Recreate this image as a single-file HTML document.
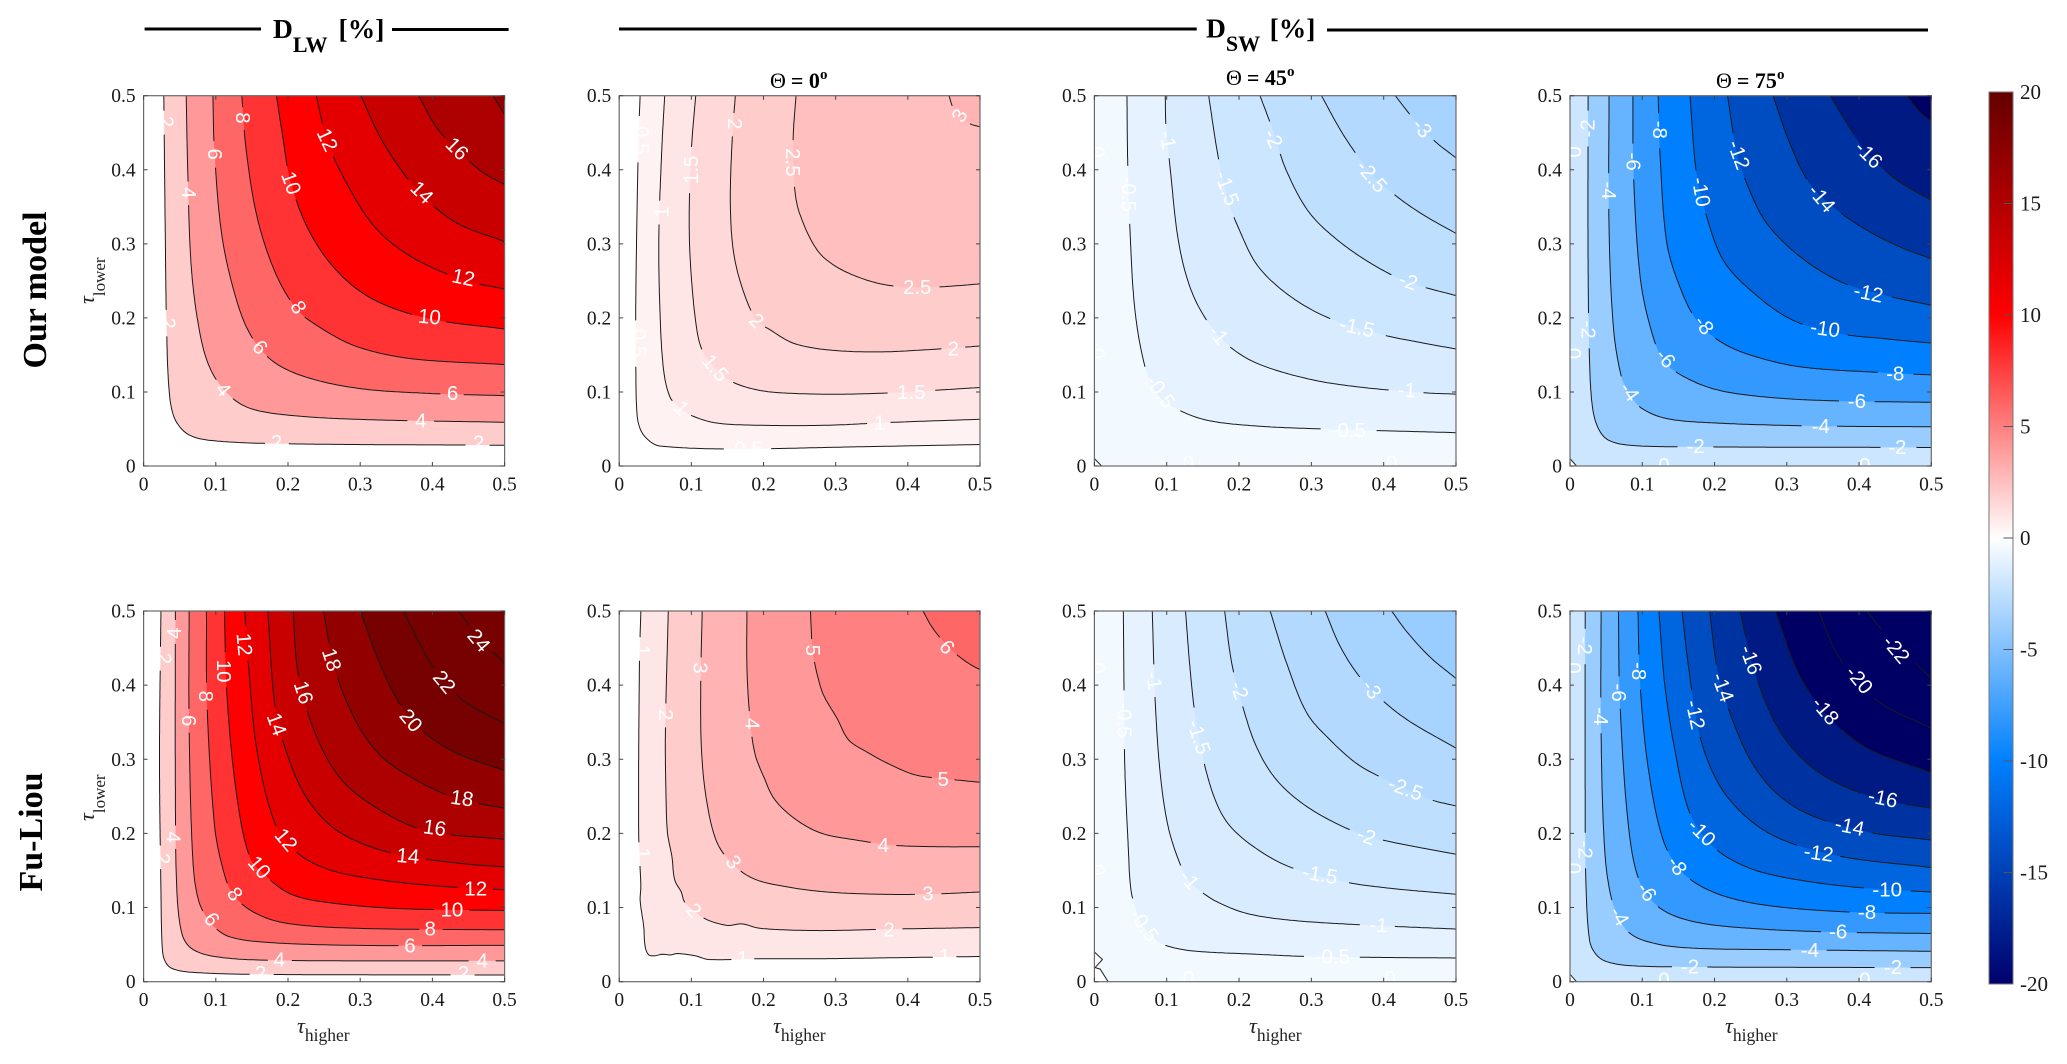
<!DOCTYPE html>
<html lang="en">
<head>
<meta charset="utf-8">
<title>Cloud overlap radiative effect contours</title>
<style>
html,body{margin:0;padding:0;background:#fff;}
svg{display:block;filter:blur(0.35px);}
text{font-family:"Liberation Serif",serif;}
</style>
</head>
<body>
<svg id="figure" xmlns="http://www.w3.org/2000/svg" width="2067" height="1064" viewBox="0 0 2067 1064">
  <defs>
    <linearGradient id="cbar-gradient" x1="0" y1="0" x2="0" y2="1">
      <stop offset="0" stop-color="#640000"/>
      <stop offset="0.25" stop-color="#ff0000"/>
      <stop offset="0.5" stop-color="#ffffff"/>
      <stop offset="0.75" stop-color="#0080ff"/>
      <stop offset="1" stop-color="#00006c"/>
    </linearGradient>
  </defs>

  <g>
    <line x1="144.6" y1="29" x2="261" y2="29" stroke="#000" stroke-width="3"/>
    <line x1="392" y1="29.5" x2="508.6" y2="29.5" stroke="#000" stroke-width="3"/>
    <text x="273" y="38" font-weight="bold" font-size="27.5">D<tspan font-size="22" dy="14">LW</tspan><tspan dy="-14" dx="11">[%]</tspan></text>
  </g>
  <g>
    <line x1="619" y1="29" x2="1196.7" y2="29" stroke="#000" stroke-width="3"/>
    <line x1="1327" y1="30" x2="1928" y2="30" stroke="#000" stroke-width="3"/>
    <text x="1206" y="37.5" font-weight="bold" font-size="27.5">D<tspan font-size="22" dy="13.5">SW</tspan><tspan dy="-13.5" dx="9.5">[%]</tspan></text>
  </g>

  <text x="770" y="88" font-size="22"><tspan>Θ</tspan><tspan font-weight="bold" dx="5">= 0</tspan><tspan font-weight="bold" font-size="15" dy="-9">o</tspan></text>
  <text x="1226" y="85" font-size="22"><tspan>Θ</tspan><tspan font-weight="bold" dx="5">= 45</tspan><tspan font-weight="bold" font-size="15" dy="-9">o</tspan></text>
  <text x="1716" y="88" font-size="22"><tspan>Θ</tspan><tspan font-weight="bold" dx="5">= 75</tspan><tspan font-weight="bold" font-size="15" dy="-9">o</tspan></text>

  <text transform="translate(46,290) rotate(-90)" text-anchor="middle" font-weight="bold" font-size="34">Our model</text>
  <text transform="translate(42,832) rotate(-90)" text-anchor="middle" font-weight="bold" font-size="34">Fu-Liou</text>

  <text transform="translate(94,304) rotate(-90)" font-size="17" fill="#222"><tspan font-style="italic" font-size="22">τ</tspan><tspan dy="11">lower</tspan></text>
  <text transform="translate(94,821) rotate(-90)" font-size="17" fill="#222"><tspan font-style="italic" font-size="22">τ</tspan><tspan dy="11">lower</tspan></text>

  <text x="297" y="1033" font-size="17.5" fill="#222"><tspan font-style="italic" font-size="22">τ</tspan><tspan dy="8">higher</tspan></text>
  <text x="773" y="1033" font-size="17.5" fill="#222"><tspan font-style="italic" font-size="22">τ</tspan><tspan dy="8">higher</tspan></text>
  <text x="1249" y="1033" font-size="17.5" fill="#222"><tspan font-style="italic" font-size="22">τ</tspan><tspan dy="8">higher</tspan></text>
  <text x="1725" y="1033" font-size="17.5" fill="#222"><tspan font-style="italic" font-size="22">τ</tspan><tspan dy="8">higher</tspan></text>

  <g id="panels"></g>

  <g id="colorbar">
    <rect x="1989" y="92" width="24" height="892" fill="url(#cbar-gradient)" stroke="#777" stroke-width="1"/>
  </g>
</svg>

<script>
// ---- shared axis data ----
const tickValues = [0, 0.1, 0.2, 0.3, 0.4, 0.5];
const tickLabels = ["0", "0.1", "0.2", "0.3", "0.4", "0.5"];
const cbarValues = [20, 15, 10, 5, 0, -5, -10, -15, -20];
const cbarLabels = ["20", "15", "10", "5", "0", "-5", "-10", "-15", "-20"];

// ---- Our model, D_LW ----
const modelLwLevels = [2, 4, 6, 8, 10, 12, 14, 16, 18];
const modelLwContours = [
  [[.028,.5],[.030,.314],[.032,.179],[.036,.095],[.044,.062],[.063,.042],[.098,.034],[.197,.030],[.5,.028]],
  [[.059,.5],[.061,.404],[.066,.269],[.078,.179],[.093,.130],[.118,.096],[.147,.078],[.197,.069],[.296,.063],[.5,.059]],
  [[.096,.5],[.098,.427],[.108,.314],[.126,.233],[.147,.179],[.177,.143],[.222,.121],[.296,.105],[.395,.098],[.5,.095]],
  [[.136,.5],[.142,.427],[.157,.337],[.182,.262],[.212,.212],[.246,.186],[.296,.161],[.370,.145],[.5,.137]],
  [[.184,.5],[.192,.449],[.204,.382],[.231,.314],[.271,.260],[.320,.224],[.395,.199],[.5,.185]],
  [[.239,.5],[.254,.440],[.281,.382],[.320,.323],[.370,.283],[.443,.251],[.5,.239]],
  [[.301,.5],[.325,.449],[.350,.409],[.385,.366],[.434,.328],[.5,.303]],
  [[.381,.5],[.405,.458],[.434,.427],[.469,.397],[.5,.380]],
  [[.484,.5],[.5,.474]]
];
const modelLwLabels = [
  ["2",.031,.465,90],["2",.034,.193,90],["2",.184,.032,0],["2",.464,.031,0],
  ["4",.062,.369,90],["4",.110,.103,50],["4",.384,.061,0],
  ["6",.098,.421,90],["6",.161,.160,50],["6",.428,.098,0],
  ["8",.137,.470,90],["8",.214,.214,60],
  ["10",.204,.382,70],["10",.396,.201,5],
  ["12",.254,.440,65],["12",.443,.254,12],
  ["14",.385,.369,45],["16",.434,.428,45]
];

// ---- Our model, D_SW theta 0 ----
const modelSw0Levels = [0.5, 1, 1.5, 2, 2.5, 3];
const modelSw0Contours = [
  [[.029,.5],[.027,.449],[.025,.359],[.023,.224],[.023,.134],[.025,.067],[.031,.046],[.043,.033],[.056,.027],[.149,.023],[.334,.026],[.5,.029]],
  [[.063,.5],[.059,.427],[.055,.314],[.056,.224],[.061,.134],[.070,.094],[.084,.078],[.103,.067],[.135,.058],[.195,.055],[.287,.055],[.380,.059],[.5,.063]],
  [[.106,.5],[.100,.427],[.097,.337],[.099,.269],[.107,.188],[.116,.154],[.135,.130],[.158,.113],[.195,.102],[.241,.098],[.311,.097],[.380,.099],[.5,.106]],
  [[.161,.5],[.157,.449],[.154,.359],[.158,.292],[.170,.242],[.190,.197],[.209,.184],[.241,.166],[.287,.157],[.357,.154],[.426,.157],[.5,.162]],
  [[.245,.5],[.241,.440],[.243,.377],[.250,.341],[.274,.292],[.301,.269],[.343,.251],[.380,.243],[.417,.241],[.463,.243],[.5,.246]],
  [[.457,.5],[.463,.483],[.472,.472],[.486,.462],[.5,.458]]
];
const modelSw0Labels = [
  ["0.5",.031,.440,90],["0.5",.027,.166,90],["0.5",.179,.023,0],
  ["1",.059,.343,-90],["1",.086,.078,45],["1",.361,.058,0],
  ["1.5",.100,.400,-90],["1.5",.133,.132,50],["1.5",.405,.099,0],
  ["2",.160,.462,90],["2",.190,.196,45],["2",.463,.158,0],
  ["2.5",.240,.410,90],["2.5",.413,.241,0],["3",.472,.473,-60]
];

// ---- Our model, D_SW theta 45 ----
const modelSw45Levels = [-0.5, -1, -1.5, -2, -2.5, -3];
const modelSw45Origin = [[0,.010],[.010,0]];
const modelSw45Contours = [
  [[.045,.5],[.046,.413],[.049,.323],[.056,.211],[.070,.134],[.086,.098],[.112,.078],[.155,.062],[.224,.054],[.317,.050],[.5,.045]],
  [[.098,.5],[.099,.458],[.105,.400],[.116,.305],[.132,.242],[.155,.197],[.185,.163],[.224,.139],[.294,.118],[.363,.107],[.455,.099],[.5,.097]],
  [[.158,.5],[.171,.418],[.183,.364],[.199,.322],[.226,.270],[.271,.229],[.326,.199],[.395,.178],[.455,.166],[.5,.158]],
  [[.229,.5],[.245,.458],[.265,.400],[.295,.345],[.330,.310],[.380,.275],[.432,.249],[.5,.230]],
  [[.314,.5],[.340,.454],[.363,.420],[.386,.392],[.418,.364],[.455,.339],[.5,.314]],
  [[.416,.5],[.441,.469],[.469,.440],[.5,.416]]
];
const modelSw45Labels = [
  ["0",.004,.424,90],["0",.004,.152,90],["0",.130,.004,0],["0",.411,.004,0],
  ["-0.5",.047,.367,90],["-0.5",.091,.100,55],["-0.5",.351,.048,0],
  ["-1",.101,.440,80],["-1",.171,.177,50],["-1",.432,.102,2],
  ["-1.5",.183,.375,70],["-1.5",.363,.187,12],
  ["-2",.247,.442,65],["-2",.434,.249,20],
  ["-2.5",.383,.391,50],["-3",.453,.456,50]
];

// ---- Our model, D_SW theta 75 ----
const modelSw75Levels = [-2, -4, -6, -8, -10, -12, -14, -16, -18];
const modelSw75Origin = [[0,.010],[.009,0]];
const modelSw75Contours = [
  [[.025,.5],[.025,.278],[.027,.143],[.031,.080],[.039,.051],[.053,.035],[.083,.028],[.157,.026],[.5,.025]],
  [[.054,.5],[.054,.323],[.060,.188],[.071,.121],[.083,.096],[.099,.078],[.134,.064],[.203,.058],[.341,.054],[.5,.053]],
  [[.087,.5],[.088,.391],[.097,.256],[.111,.188],[.129,.143],[.157,.121],[.203,.103],[.272,.093],[.364,.088],[.5,.086]],
  [[.122,.5],[.125,.413],[.134,.301],[.152,.242],[.175,.197],[.208,.168],[.249,.150],[.318,.134],[.434,.126],[.5,.123]],
  [[.166,.5],[.175,.395],[.189,.337],[.212,.278],[.249,.238],[.304,.199],[.364,.180],[.434,.172],[.5,.166]],
  [[.218,.5],[.231,.422],[.246,.378],[.272,.328],[.318,.283],[.374,.249],[.434,.231],[.5,.217]],
  [[.281,.5],[.304,.436],[.332,.381],[.369,.346],[.415,.316],[.461,.294],[.5,.280]],
  [[.360,.5],[.383,.463],[.411,.422],[.443,.393],[.470,.375],[.5,.359]],
  [[.466,.5],[.484,.478],[.5,.465]]
];
const modelSw75Labels = [
  ["0",.005,.424,90],["0",.005,.152,90],["0",.130,.001,0],["0",.408,.001,0],
  ["-2",.025,.456,-90],["-2",.025,.184,90],["-2",.174,.026,0],["-2",.453,.025,0],
  ["-4",.053,.372,90],["-4",.082,.100,55],["-4",.347,.053,0],
  ["-6",.087,.411,90],["-6",.132,.145,50],["-6",.397,.087,0],
  ["-8",.124,.454,90],["-8",.185,.190,55],["-8",.450,.124,0],
  ["-10",.181,.370,80],["-10",.353,.185,8],
  ["-12",.233,.420,70],["-12",.413,.233,12],
  ["-14",.348,.361,50],["-16",.413,.420,45]
];

// ---- Fu-Liou, D_LW ----
const fuLwLevels = [2, 4, 6, 8, 10, 12, 14, 16, 18, 20, 22, 24];
const fuLwContours = [
  [[.024,.5],[.022,.303],[.024,.124],[.026,.043],[.030,.027],[.039,.018],[.063,.013],[.147,.010],[.5,.009]],
  [[.044,.5],[.044,.258],[.046,.124],[.053,.065],[.066,.045],[.098,.034],[.172,.029],[.5,.028]],
  [[.063,.5],[.063,.348],[.068,.168],[.076,.110],[.093,.079],[.118,.061],[.172,.053],[.296,.049],[.5,.049]],
  [[.087,.5],[.088,.371],[.098,.213],[.108,.159],[.123,.119],[.152,.094],[.197,.079],[.296,.072],[.5,.070]],
  [[.112,.5],[.115,.393],[.128,.258],[.147,.168],[.170,.142],[.202,.119],[.246,.108],[.345,.099],[.5,.096]],
  [[.140,.5],[.145,.429],[.157,.312],[.182,.213],[.209,.177],[.246,.155],[.296,.142],[.395,.130],[.5,.124]],
  [[.172,.5],[.182,.371],[.197,.312],[.222,.254],[.256,.213],[.296,.189],[.355,.171],[.444,.159],[.5,.155]],
  [[.207,.5],[.214,.416],[.236,.339],[.271,.276],[.320,.236],[.390,.204],[.5,.192]],
  [[.249,.5],[.264,.425],[.291,.357],[.325,.308],[.370,.276],[.434,.247],[.5,.234]],
  [[.300,.5],[.325,.434],[.352,.379],[.385,.339],[.434,.308],[.5,.285]],
  [[.360,.5],[.390,.442],[.416,.404],[.449,.375],[.5,.348]],
  [[.436,.5],[.464,.465],[.5,.429]]
];
const fuLwLabels = [
  ["2",.028,.436,90],["2",.026,.166,90],["2",.162,.011,0],["2",.443,.011,0],
  ["4",.043,.470,-90],["4",.041,.195,90],["4",.188,.029,0],["4",.469,.028,0],
  ["6",.062,.352,90],["6",.094,.084,55],["6",.369,.048,0],
  ["8",.086,.385,90],["8",.126,.118,55],["8",.397,.071,0],
  ["10",.111,.419,90],["10",.160,.154,50],["10",.427,.097,0],
  ["12",.139,.455,85],["12",.197,.191,50],["12",.460,.125,0],
  ["14",.184,.347,70],["14",.366,.169,5],
  ["16",.221,.390,72],["16",.403,.207,8],
  ["18",.260,.434,72],["18",.441,.247,8],
  ["20",.370,.352,50],["22",.416,.404,50],["24",.464,.460,50]
];

// ---- Fu-Liou, D_SW theta 0 ----
const fuSw0Levels = [1, 2, 3, 4, 5, 6];
const fuSw0Contours = [
  [[.030,.5],[.028,.425],[.027,.200],[.030,.128],[.029,.110],[.034,.074],[.036,.047],[.041,.036],[.050,.035],[.059,.037],[.071,.036],[.080,.038],[.105,.035],[.124,.030],[.195,.031],[.278,.031],[.357,.032],[.5,.034]],
  [[.068,.5],[.064,.335],[.065,.245],[.067,.200],[.073,.169],[.077,.137],[.086,.121],[.091,.107],[.117,.086],[.149,.076],[.170,.078],[.195,.072],[.274,.069],[.380,.071],[.5,.073]],
  [[.115,.5],[.113,.402],[.114,.313],[.121,.245],[.135,.189],[.156,.160],[.186,.139],[.232,.128],[.288,.121],[.357,.118],[.426,.118],[.5,.121]],
  [[.177,.5],[.177,.425],[.181,.357],[.188,.308],[.200,.277],[.216,.245],[.246,.218],[.281,.200],[.329,.191],[.380,.184],[.449,.182],[.5,.182]],
  [[.265,.5],[.268,.447],[.274,.416],[.283,.387],[.302,.355],[.318,.326],[.343,.310],[.371,.295],[.410,.279],[.449,.274],[.5,.269]],
  [[.421,.5],[.433,.479],[.449,.459],[.468,.441],[.488,.427],[.5,.421]]
];
const fuSw0Labels = [
  ["1",.032,.447,90],["1",.032,.173,90],["1",.171,.031,0],["1",.451,.034,0],
  ["2",.064,.360,90],["2",.103,.096,50],["2",.374,.070,0],
  ["3",.112,.423,90],["3",.158,.161,55],["3",.428,.118,0],
  ["4",.184,.348,90],["4",.366,.184,0],
  ["5",.268,.447,90],["5",.449,.273,0],["6",.454,.451,50]
];

// ---- Fu-Liou, D_SW theta 45 ----
const fuSw45Levels = [-0.5, -1, -1.5, -2, -2.5, -3, -3.5];
const fuSw45Origin = [[0,.040],[.011,.030],[.001,.019],[.008,.017],[.019,0]];
const fuSw45Contours = [
  [[.040,.5],[.041,.389],[.042,.290],[.047,.178],[.050,.128],[.056,.101],[.068,.074],[.088,.054],[.109,.046],[.141,.041],[.224,.037],[.294,.034],[.363,.033],[.5,.032]],
  [[.080,.5],[.084,.380],[.091,.281],[.102,.209],[.118,.160],[.132,.135],[.144,.124],[.169,.108],[.211,.092],[.271,.083],[.363,.077],[.5,.071]],
  [[.126,.5],[.132,.425],[.139,.362],[.153,.290],[.171,.236],[.192,.205],[.234,.173],[.275,.153],[.344,.135],[.409,.126],[.5,.118]],
  [[.180,.5],[.190,.429],[.204,.375],[.224,.317],[.252,.272],[.294,.236],[.353,.205],[.395,.192],[.455,.180],[.5,.172]],
  [[.243,.5],[.266,.429],[.294,.362],[.326,.326],[.363,.294],[.400,.274],[.464,.246],[.5,.237]],
  [[.319,.5],[.340,.452],[.367,.411],[.400,.378],[.436,.351],[.5,.315]],
  [[.411,.5],[.432,.472],[.464,.438],[.5,.409]]
];
const fuSw45Labels = [
  ["0",.004,.423,90],["0",.004,.151,90],["0",.130,.004,0],["0",.409,.004,0],
  ["-0.5",.041,.353,90],["-0.5",.068,.076,55],["-0.5",.329,.033,0],
  ["-1",.082,.406,80],["-1",.131,.137,50],["-1",.393,.076,3],
  ["-1.5",.144,.330,72],["-1.5",.312,.144,10],
  ["-2",.200,.393,70],["-2",.376,.196,20],
  ["-2.5",.430,.260,20],["-3",.383,.394,55]
];

// ---- Fu-Liou, D_SW theta 75 ----
const fuSw75Levels = [-2, -4, -6, -8, -10, -12, -14, -16, -18, -20, -22];
const fuSw75Origin = [[0,.010],[.009,0]];
const fuSw75Contours = [
  [[.021,.5],[.021,.245],[.022,.133],[.027,.056],[.035,.038],[.048,.028],[.078,.022],[.157,.020],[.5,.019]],
  [[.043,.5],[.043,.335],[.048,.178],[.058,.110],[.076,.072],[.101,.056],[.157,.046],[.318,.043],[.5,.041]],
  [[.067,.5],[.069,.380],[.081,.209],[.097,.133],[.125,.099],[.171,.081],[.249,.072],[.364,.067],[.5,.065]],
  [[.094,.5],[.097,.402],[.108,.290],[.129,.191],[.157,.146],[.203,.119],[.272,.103],[.387,.094],[.5,.092]],
  [[.123,.5],[.131,.402],[.145,.313],[.166,.227],[.198,.182],[.249,.153],[.318,.137],[.411,.126],[.5,.121]],
  [[.155,.5],[.164,.425],[.180,.330],[.208,.263],[.249,.218],[.295,.191],[.374,.169],[.5,.154]],
  [[.193,.5],[.205,.416],[.226,.350],[.252,.295],[.286,.254],[.332,.225],[.411,.202],[.5,.191]],
  [[.235,.5],[.256,.416],[.286,.345],[.323,.299],[.369,.268],[.434,.245],[.5,.234]],
  [[.284,.5],[.314,.420],[.339,.380],[.369,.346],[.415,.313],[.5,.282]],
  [[.344,.5],[.369,.443],[.401,.402],[.434,.373],[.5,.342]],
  [[.411,.5],[.434,.472],[.470,.438],[.5,.409]]
];
const fuSw75Labels = [
  ["0",.005,.423,90],["0",.005,.153,90],["0",.130,.002,0],["0",.408,.002,0],
  ["-2",.020,.453,90],["-2",.021,.178,90],["-2",.166,.020,0],["-2",.447,.019,0],
  ["-4",.042,.358,90],["-4",.068,.088,60],["-4",.332,.042,0],
  ["-6",.067,.390,90],["-6",.106,.121,55],["-6",.371,.067,0],
  ["-8",.095,.419,90],["-8",.148,.156,55],["-8",.411,.093,0],
  ["-10",.182,.201,45],["-10",.439,.124,0],
  ["-12",.173,.360,78],["-12",.344,.173,8],
  ["-14",.211,.397,70],["-14",.387,.209,12],
  ["-16",.250,.434,70],["-16",.433,.247,12],
  ["-18",.353,.365,50],["-20",.400,.407,50],["-22",.451,.448,50]
];

// ---- rendering ----
const SVGNS = "http://www.w3.org/2000/svg";
const panelsRoot = document.getElementById("panels");
const colorbarRoot = document.getElementById("colorbar");

const rowBoxes = [{top: 95.7, bottom: 466}, {top: 611, bottom: 981.7}];
const colBoxes = [{left: 143.6, right: 504.6}, {left: 619.2, right: 980}, {left: 1094.4, right: 1456}, {left: 1570, right: 1931.3}];

const panelSpecs = [
  {name: "our-model-lw", row: 0, col: 0, levels: modelLwLevels, contours: modelLwContours, labels: modelLwLabels, origin: null},
  {name: "our-model-sw-0", row: 0, col: 1, levels: modelSw0Levels, contours: modelSw0Contours, labels: modelSw0Labels, origin: null},
  {name: "our-model-sw-45", row: 0, col: 2, levels: modelSw45Levels, contours: modelSw45Contours, labels: modelSw45Labels, origin: modelSw45Origin},
  {name: "our-model-sw-75", row: 0, col: 3, levels: modelSw75Levels, contours: modelSw75Contours, labels: modelSw75Labels, origin: modelSw75Origin},
  {name: "fu-liou-lw", row: 1, col: 0, levels: fuLwLevels, contours: fuLwContours, labels: fuLwLabels, origin: null},
  {name: "fu-liou-sw-0", row: 1, col: 1, levels: fuSw0Levels, contours: fuSw0Contours, labels: fuSw0Labels, origin: null},
  {name: "fu-liou-sw-45", row: 1, col: 2, levels: fuSw45Levels, contours: fuSw45Contours, labels: fuSw45Labels, origin: fuSw45Origin},
  {name: "fu-liou-sw-75", row: 1, col: 3, levels: fuSw75Levels, contours: fuSw75Contours, labels: fuSw75Labels, origin: fuSw75Origin}
];

function mix(a, b, t) { return Math.round(a + (b - a) * t); }

function colorFor(v) {
  if (v >= 0) {
    if (v <= 10) { const t = v / 10; return "rgb(255," + mix(255, 0, t) + "," + mix(255, 0, t) + ")"; }
    const t = Math.min(1, (v - 10) / 10);
    return "rgb(" + mix(255, 119, t) + ",0,0)";
  }
  const u = -v;
  if (u <= 10) { const t = u / 10; return "rgb(" + mix(255, 0, t) + "," + mix(255, 128, t) + ",255)"; }
  const t = Math.min(1, (u - 10) / 10);
  return "rgb(0," + mix(128, 0, t) + "," + mix(255, 100, t) + ")";
}

function xScale(box, tau) { return box.left + (tau / 0.5) * (box.right - box.left); }
function yScale(box, tau) { return box.bottom - (tau / 0.5) * (box.bottom - box.top); }

function smoothCurve(pts) {
  if (pts.length < 3) return pts.slice();
  const n = pts.length, d = [], m = [];
  for (let i = 0; i < n - 1; i++) d.push(Math.hypot(pts[i + 1][0] - pts[i][0], pts[i + 1][1] - pts[i][1]) || 1);
  for (let i = 0; i < n; i++) {
    if (i === 0) m.push([(pts[1][0] - pts[0][0]) / d[0], (pts[1][1] - pts[0][1]) / d[0]]);
    else if (i === n - 1) m.push([(pts[i][0] - pts[i - 1][0]) / d[i - 1], (pts[i][1] - pts[i - 1][1]) / d[i - 1]]);
    else m.push([(pts[i + 1][0] - pts[i - 1][0]) / (d[i - 1] + d[i]), (pts[i + 1][1] - pts[i - 1][1]) / (d[i - 1] + d[i])]);
  }
  const out = [];
  for (let i = 0; i < n - 1; i++) {
    const steps = Math.max(3, Math.ceil(d[i] / 3));
    for (let s = 0; s < steps; s++) {
      const t = s / steps, t2 = t * t, t3 = t2 * t;
      const h00 = 2 * t3 - 3 * t2 + 1, h10 = t3 - 2 * t2 + t, h01 = -2 * t3 + 3 * t2, h11 = t3 - t2;
      out.push([
        h00 * pts[i][0] + h10 * d[i] * m[i][0] + h01 * pts[i + 1][0] + h11 * d[i] * m[i + 1][0],
        h00 * pts[i][1] + h10 * d[i] * m[i][1] + h01 * pts[i + 1][1] + h11 * d[i] * m[i + 1][1]
      ]);
    }
  }
  out.push(pts[n - 1]);
  return out;
}

function polyString(pts) {
  return pts.map(function (p) { return p[0].toFixed(1) + "," + p[1].toFixed(1); }).join(" ");
}

function linePathWithGaps(pts, gaps) {
  let d = "", pen = false;
  pts.forEach(function (p) {
    const hidden = gaps.some(function (g) { return Math.hypot(p[0] - g.x, p[1] - g.y) < g.r; });
    if (hidden) { pen = false; return; }
    d += (pen ? "L" : "M") + p[0].toFixed(1) + " " + p[1].toFixed(1);
    pen = true;
  });
  return d;
}

panelSpecs.forEach(function (spec, idx) {
  const box = {left: colBoxes[spec.col].left, right: colBoxes[spec.col].right, top: rowBoxes[spec.row].top, bottom: rowBoxes[spec.row].bottom};
  const negative = spec.levels[0] < 0;
  const X = function (t) { return xScale(box, t); };
  const Y = function (t) { return yScale(box, t); };

  const group = document.createElementNS(SVGNS, "g");
  
  
  group.setAttribute("id", "panel-" + spec.name);
  panelsRoot.appendChild(group);

  const clip = document.createElementNS(SVGNS, "clipPath");
  clip.setAttribute("id", "clip-" + idx);
  const clipRect = document.createElementNS(SVGNS, "rect");
  clipRect.setAttribute("x", box.left);
  clipRect.setAttribute("y", box.top);
  clipRect.setAttribute("width", box.right - box.left);
  clipRect.setAttribute("height", box.bottom - box.top);
  clip.appendChild(clipRect);
  group.appendChild(clip);

  const plot = document.createElementNS(SVGNS, "g");
  
  
  plot.setAttribute("clip-path", "url(#clip-" + idx + ")");
  group.appendChild(plot);

  const base = document.createElementNS(SVGNS, "rect");
  
  
  base.setAttribute("x", box.left);
  base.setAttribute("y", box.top);
  base.setAttribute("width", box.right - box.left);
  base.setAttribute("height", box.bottom - box.top);
  base.setAttribute("fill", negative ? colorFor(spec.levels[0]) : "#ffffff");
  plot.appendChild(base);

  const curves = spec.contours.map(function (c) {
    return smoothCurve(c.map(function (p) { return [X(p[0]), Y(p[1])]; }));
  });

  curves.forEach(function (curve, i) {
    const level = spec.levels[i];
    const step = i + 1 < spec.levels.length ? spec.levels[i + 1] - level : (spec.levels[1] - spec.levels[0]);
    const value = negative ? level + step : level;
    const band = document.createElementNS(SVGNS, "polygon");
    
    
    band.setAttribute("points", polyString(curve.concat([[X(0.5), Y(0.5)]])));
    band.setAttribute("fill", colorFor(value));
    plot.appendChild(band);
  });

  let originCurve = null;
  if (spec.origin) {
    originCurve = spec.origin.map(function (p) { return [X(p[0]), Y(p[1])]; });
    const corner = document.createElementNS(SVGNS, "polygon");
    
    
    corner.setAttribute("points", polyString(originCurve.concat([[X(0), Y(0)]])));
    corner.setAttribute("fill", "#ffffff");
    plot.appendChild(corner);

    const zeroLine = document.createElementNS(SVGNS, "polyline");
    
    
    zeroLine.setAttribute("points", polyString(originCurve));
    zeroLine.setAttribute("fill", "none");
    zeroLine.setAttribute("stroke", "#222");
    zeroLine.setAttribute("stroke-width", "1");
    plot.appendChild(zeroLine);
  }

  curves.forEach(function (curve, i) {
    const level = spec.levels[i];
    const gaps = spec.labels.filter(function (l) { return parseFloat(l[0]) === level; }).map(function (l) {
      return {x: X(l[1]), y: Y(l[2]), r: 5 + 5.6 * l[0].length};
    });
    const line = document.createElementNS(SVGNS, "path");
    
    
    line.setAttribute("d", linePathWithGaps(curve, gaps));
    line.setAttribute("fill", "none");
    line.setAttribute("stroke", "#1a1a1a");
    line.setAttribute("stroke-width", "1");
    plot.appendChild(line);
  });

  spec.labels.forEach(function (l) {
    const t = document.createElementNS(SVGNS, "text");
    
    
    t.setAttribute("transform", "translate(" + X(l[1]).toFixed(1) + "," + Y(l[2]).toFixed(1) + ") rotate(" + l[3] + ")");
    t.setAttribute("text-anchor", "middle");
    t.setAttribute("dominant-baseline", "central");
    t.setAttribute("fill", "#ffffff");
    t.setAttribute("font-size", "20.5");
    t.style.fontFamily = '"Liberation Sans", sans-serif';
    t.textContent = l[0];
    plot.appendChild(t);
  });

  const frame = document.createElementNS(SVGNS, "rect");
  
  
  frame.setAttribute("x", box.left);
  frame.setAttribute("y", box.top);
  frame.setAttribute("width", box.right - box.left);
  frame.setAttribute("height", box.bottom - box.top);
  frame.setAttribute("fill", "none");
  frame.setAttribute("stroke", "#6a6a6a");
  frame.setAttribute("stroke-width", "1.2");
  group.appendChild(frame);

  const tickLen = 4;
  let tickPath = "";
  tickValues.forEach(function (v) {
    const px = X(v), py = Y(v);
    tickPath += "M" + px + " " + box.bottom + "V" + (box.bottom - tickLen);
    tickPath += "M" + px + " " + box.top + "V" + (box.top + tickLen);
    tickPath += "M" + box.left + " " + py + "H" + (box.left + tickLen);
    tickPath += "M" + box.right + " " + py + "H" + (box.right - tickLen);
  });
  const ticks = document.createElementNS(SVGNS, "path");
  
  
  ticks.setAttribute("d", tickPath);
  ticks.setAttribute("stroke", "#444");
  ticks.setAttribute("stroke-width", "1");
  ticks.setAttribute("fill", "none");
  group.appendChild(ticks);

  tickValues.forEach(function (v, i) {
    const xl = document.createElementNS(SVGNS, "text");
    
    
    xl.setAttribute("x", X(v));
    xl.setAttribute("y", box.bottom + 24.5);
    xl.setAttribute("text-anchor", "middle");
    xl.setAttribute("font-size", "19.5");
    xl.setAttribute("fill", "#1a1a1a");
    xl.textContent = tickLabels[i];
    group.appendChild(xl);

    const yl = document.createElementNS(SVGNS, "text");
    
    
    yl.setAttribute("x", box.left - 8);
    yl.setAttribute("y", Y(v) + 6.5);
    yl.setAttribute("text-anchor", "end");
    yl.setAttribute("font-size", "19.5");
    yl.setAttribute("fill", "#1a1a1a");
    yl.textContent = tickLabels[i];
    group.appendChild(yl);
  });
});

function cbarY(v) { return 92 + (20 - v) / 40 * 892; }

cbarValues.forEach(function (v, i) {
  const y = cbarY(v);
  if (i > 0 && i < cbarValues.length - 1) {
    const tick = document.createElementNS(SVGNS, "line");
    
    
    tick.setAttribute("x1", 2003.5);
    tick.setAttribute("x2", 2013);
    tick.setAttribute("y1", y);
    tick.setAttribute("y2", y);
    tick.setAttribute("stroke", "#555");
    tick.setAttribute("stroke-width", "1");
    colorbarRoot.appendChild(tick);
  }
  const label = document.createElementNS(SVGNS, "text");
  
  
  label.setAttribute("x", 2020);
  label.setAttribute("y", y + 7);
  label.setAttribute("font-size", "21");
  label.setAttribute("fill", "#1a1a1a");
  label.textContent = cbarLabels[i];
  colorbarRoot.appendChild(label);
});
</script>
</body>
</html>
